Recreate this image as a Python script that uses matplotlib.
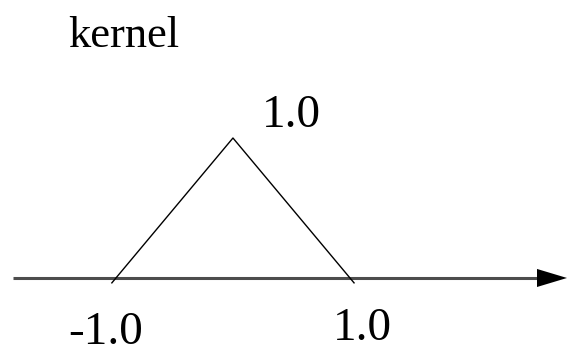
import matplotlib
matplotlib.use("Agg")
import matplotlib.pyplot as plt

# 三角核函数的数据
kernel_x = [-1.0, 0.0, 1.0]
kernel_y = [0.0, 1.0, 0.0]
title = "kernel"
peak_label = "1.0"
left_label = "-1.0"
right_label = "1.0"

plt.rcParams['font.family'] = ['Liberation Serif', 'DejaVu Serif']

fig = plt.figure(figsize=(5.67, 3.46), dpi=100)
ax = fig.add_axes([0, 0, 1, 1])
ax.set_xlim(-1.991, 2.855)
ax.set_ylim(-0.486, 1.986)
ax.axis('off')

# 横轴 + 箭头
ax.plot([-1.88, 2.62], [0, 0], color='#4d4d4d', linewidth=2.2, solid_capstyle='butt')
ax.annotate('', xy=(2.855, 0), xytext=(2.598, 0), annotation_clip=False,
            arrowprops=dict(arrowstyle='-|>,head_length=2.16,head_width=0.65',
                            mutation_scale=10, color='black', lw=0,
                            shrinkA=0, shrinkB=0))

# 三角形 (两条腿稍微伸出横轴下方)
ext = 0.035
xs = list(kernel_x)
ys = list(kernel_y)
xs[0] = kernel_x[0] - ext * (kernel_x[1] - kernel_x[0])
ys[0] = kernel_y[0] - ext * (kernel_y[1] - kernel_y[0])
xs[-1] = kernel_x[-1] + ext * (kernel_x[-1] - kernel_x[-2])
ys[-1] = kernel_y[-1] + ext * (kernel_y[-1] - kernel_y[-2])
ax.plot(xs, ys, color='black', linewidth=1.0)

fs = 34
ax.text(-1.41, 1.65, title, fontsize=32, ha='left', va='baseline')
ax.text(0.248, 1.079, peak_label, fontsize=fs, ha='left', va='baseline')
ax.text(-1.41, -0.47, left_label, fontsize=fs, ha='left', va='baseline')
ax.text(0.855, -0.443, right_label, fontsize=fs, ha='left', va='baseline')

plt.savefig('out.png', dpi=100)
